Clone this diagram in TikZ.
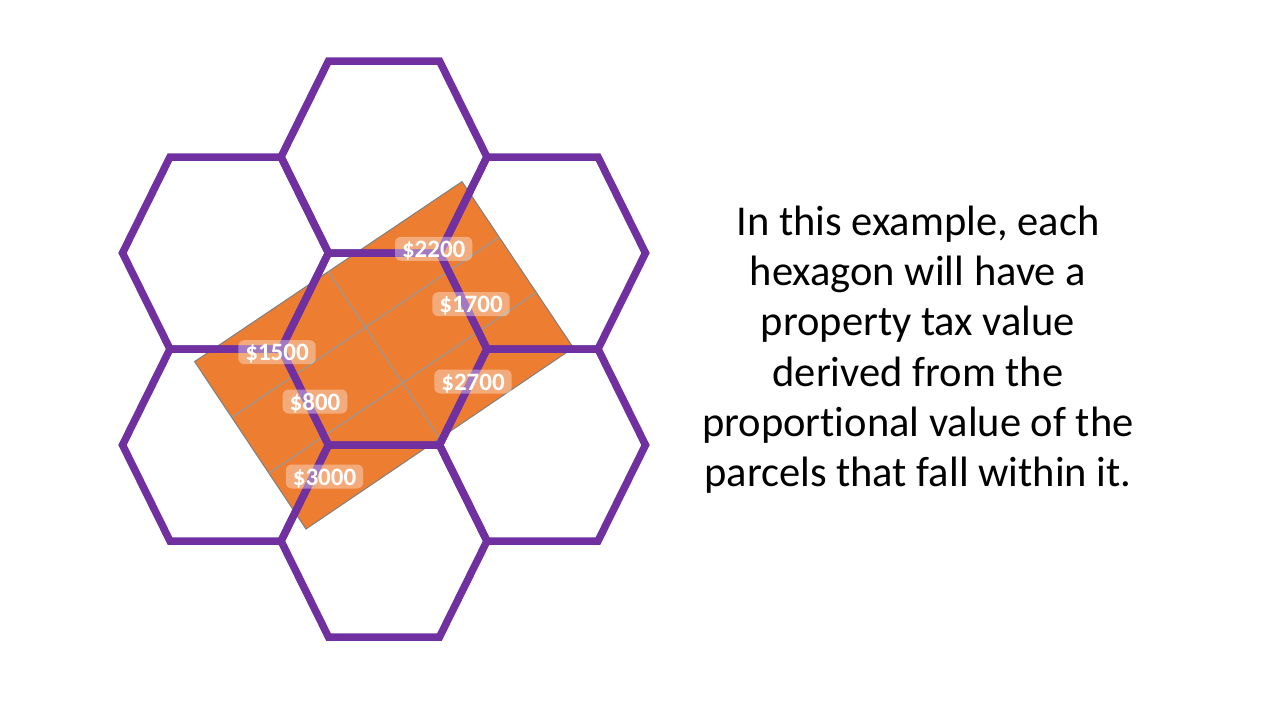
\documentclass[tikz,border=0pt]{standalone}
\usepackage{fontspec}
\setmainfont{Carlito}[Ligatures={NoCommon}]
\usetikzlibrary{calc}
\definecolor{hexpurple}{RGB}{112,48,160}
\definecolor{parcelorange}{RGB}{237,125,49}
\begin{document}
\begin{tikzpicture}[x=1pt,y=-1pt,
  hexline/.style={draw=hexpurple,line width=7.5pt,line join=miter},
  hexa/.pic={\path[hexline] (-103,0) -- (-55.5,-96) -- (55.5,-96) -- (103,0) -- (55.5,96) -- (-55.5,96) -- cycle;},
  parcel/.style={fill=parcelorange,draw=gray,line width=1pt},
  gridline/.style={draw=gray!80,line width=1.2pt},
  val/.style={font=\fontsize{25}{25}\selectfont\bfseries,text=white,fill=white,fill opacity=0.36,text opacity=1,rounded corners=6pt,inner xsep=7pt,inner ysep=0.5pt,text height=20pt,text depth=3pt,anchor=base},
  note/.style={font=\fontsize{42.5}{50.3}\selectfont,align=center,anchor=base,inner sep=0pt}]
\fill[white] (0,0) rectangle (1280,720);
\useasboundingbox (0,0) rectangle (1280,720);
% parcel block
\coordinate (T) at (462,181.6);
\coordinate (R) at (573.4,347.8);
\coordinate (B) at (306,529);
\coordinate (L) at (194.6,361.6);
\path[parcel] (L) -- (T) -- (R) -- (B) -- cycle;
\path[gridline] ($(T)!1/3!(R)$) -- ($(L)!1/3!(B)$);
\path[gridline] ($(T)!2/3!(R)$) -- ($(L)!2/3!(B)$);
\path[gridline] ($(L)!0.5!(T)$) -- ($(B)!0.5!(R)$);
% hexagons
\foreach \cx/\cy in {384/157, 225.5/253, 542.5/253, 384/349, 225.5/445, 542.5/445, 384/541}
  \pic at (\cx,\cy) {hexa};
% values
\node[val] (v2200) at (433.7,257.3) {\$2200};
\node[val] (v1700) at (471,312.7) {\$1700};
\node[val] (v1500) at (277,360.7) {\$1500};
\node[val] (v800) at (315,410) {\$800};
\node[val] (v2700) at (473,390) {\$2700};
\node[val] (v3000) at (324.5,485) {\$3000};
% note
\node[note] (note) at (918,486.7) {In this example, each\\hexagon will have a\\property tax value\\derived from the\\proportional value of the\\parcels that fall within it.};
\end{tikzpicture}
\end{document}
